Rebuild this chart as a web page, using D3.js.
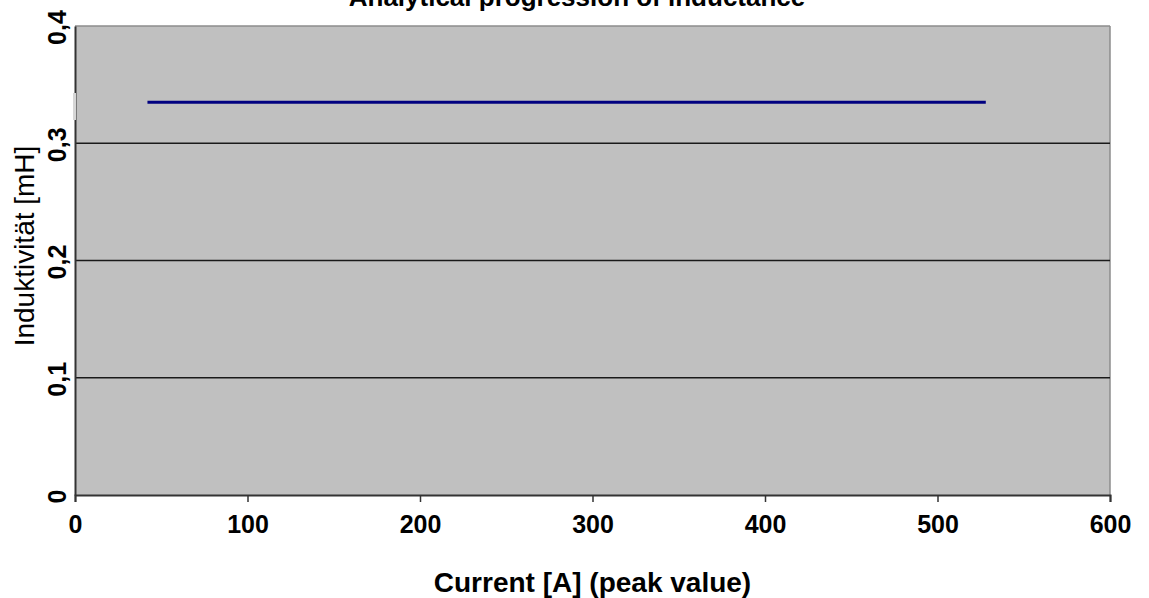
<!DOCTYPE html>
<html>
<head>
<meta charset="utf-8">
<script src="https://cdn.jsdelivr.net/npm/d3@7"></script>
<style>
  html, body { margin: 0; padding: 0; background: #fff; }
  svg { display: block; font-family: "Liberation Sans", Arial, sans-serif; }
</style>
</head>
<body>
<svg id="chart" width="1149" height="598"></svg>
<script>
// ---- data ----
const title = "Analytical progression of inductance";
const xLabel = "Current [A] (peak value)";
const yLabel = "Induktivität [mH]";
const current = [42, 528];          // A (peak)
const inductance = [0.335, 0.335];  // mH
const xTicks = [0, 100, 200, 300, 400, 500, 600];
const yTicks = [0, 0.1, 0.2, 0.3, 0.4];
const yTickLabels = ["0", "0,1", "0,2", "0,3", "0,4"];

// ---- layout ----
const svg = d3.select("#chart");
const pL = 75, pR = 1110, pT = 26, pB = 495;

const x = d3.scaleLinear().domain([0, 600]).range([pL, pR]);
const y = d3.scaleLinear().domain([0, 0.4]).range([pB, pT]);

// plot background
svg.append("rect")
  .attr("x", pL).attr("y", pT)
  .attr("width", pR - pL).attr("height", pB - pT)
  .attr("fill", "#c0c0c0");

// top & right border
svg.append("line").attr("x1", pL).attr("x2", pR).attr("y1", pT).attr("y2", pT)
  .attr("stroke", "#8c8c8c").attr("stroke-width", 1.5);
svg.append("line").attr("x1", pR).attr("x2", pR).attr("y1", pT).attr("y2", pB)
  .attr("stroke", "#8c8c8c").attr("stroke-width", 1.5);

// gridlines
svg.append("g").selectAll("line")
  .data(yTicks.filter(v => v > 0 && v < 0.4))
  .join("line")
  .attr("x1", pL).attr("x2", pR)
  .attr("y1", d => y(d)).attr("y2", d => y(d))
  .attr("stroke", "#1a1a1a").attr("stroke-width", 1.3);

// x axis
const xAxis = svg.append("g")
  .attr("transform", `translate(0,${pB})`)
  .call(d3.axisBottom(x).tickValues(xTicks).tickSize(7).tickPadding(13).tickFormat(d3.format("d")));
xAxis.select(".domain").attr("stroke", "#333").attr("stroke-width", 2);
xAxis.selectAll(".tick line").attr("stroke", "#333").attr("stroke-width", 1.5);
xAxis.selectAll(".tick text")
  .attr("font-family", "Liberation Sans, Arial, sans-serif")
  .attr("font-size", 25).attr("font-weight", "bold").attr("fill", "#000");

// y axis
const yAxis = svg.append("g")
  .attr("transform", `translate(${pL},0)`)
  .call(d3.axisLeft(y).tickValues(yTicks).tickSize(0).tickPadding(0)
    .tickFormat((d, i) => yTickLabels[i]));
yAxis.select(".domain").attr("stroke", "#333").attr("stroke-width", 2);
yAxis.selectAll(".tick line").remove();
yAxis.selectAll(".tick text")
  .attr("font-family", "Liberation Sans, Arial, sans-serif")
  .attr("font-size", 25).attr("font-weight", "bold").attr("fill", "#000")
  .attr("text-anchor", "middle")
  .attr("dy", 0)
  .attr("x", 0).attr("y", 0)
  .attr("transform", "translate(-9,1) rotate(-90)");

// light gap on left axis
svg.append("rect").attr("x", pL - 2).attr("y", 93).attr("width", 3).attr("height", 27)
  .attr("fill", "#d6d6d6");

// series line
const line = d3.line().x((d, i) => x(current[i])).y((d, i) => y(inductance[i]));
svg.append("path")
  .datum(current)
  .attr("d", line)
  .attr("fill", "none")
  .attr("stroke", "#000080")
  .attr("stroke-width", 3);

// title
svg.append("text")
  .attr("x", 577).attr("y", 6)
  .attr("text-anchor", "middle")
  .attr("font-size", 26).attr("font-weight", "bold")
  .text(title);

// x label
svg.append("text")
  .attr("x", (pL + pR) / 2).attr("y", 592)
  .attr("text-anchor", "middle")
  .attr("font-size", 28).attr("font-weight", "bold")
  .text(xLabel);

// y label
svg.append("text")
  .attr("transform", `translate(34,246) rotate(-90)`)
  .attr("text-anchor", "middle")
  .attr("font-size", 28)
  .text(yLabel);
</script>
</body>
</html>
